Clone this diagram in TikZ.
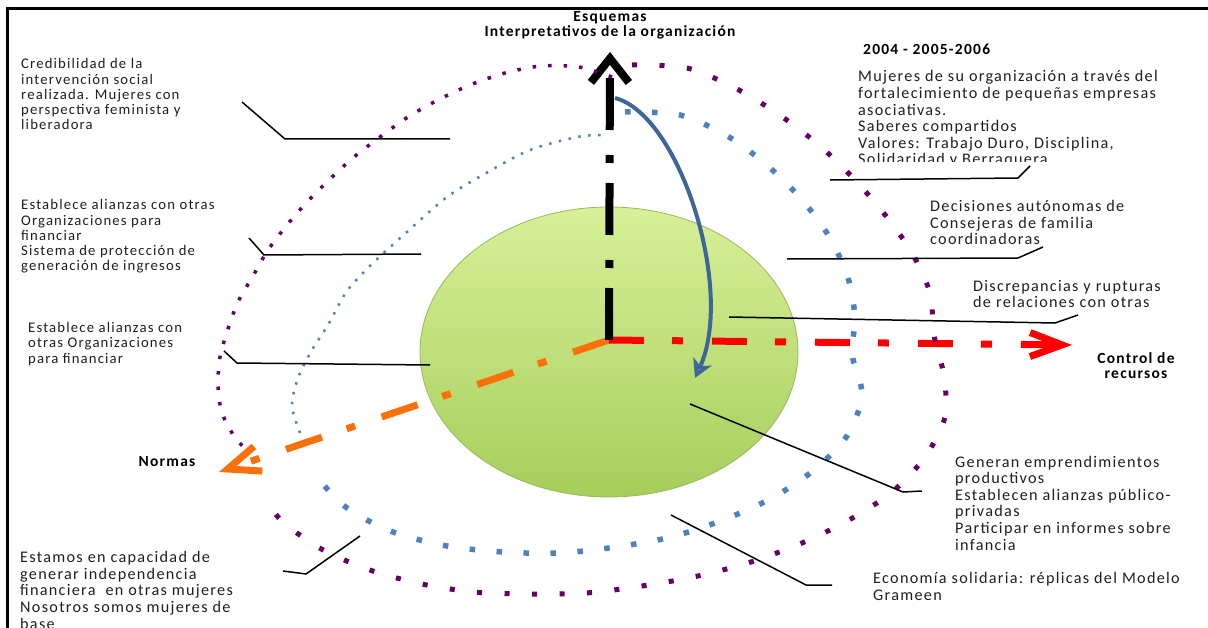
\documentclass[tikz,border=0pt]{standalone}
\usepackage{fontspec}
\setmainfont{Carlito}[LetterSpace=8]
\usetikzlibrary{arrows.meta}

\definecolor{morado}{RGB}{102,0,102}
\definecolor{azul}{RGB}{79,129,189}
\definecolor{azulflecha}{RGB}{62,102,152}
\definecolor{naranja}{RGB}{250,112,10}
\definecolor{verdeclaro}{RGB}{216,240,152}
\definecolor{verdeoscuro}{RGB}{166,206,92}
\definecolor{verdeborde}{RGB}{150,185,90}

\tikzset{
  % base = linea base de la ultima linea
  nota/.style={anchor=base west, align=left, inner sep=0pt, text=black!88,
    font=\fontsize{14.7}{15.3}\selectfont},
  notag/.style={nota, font=\fontsize{16.2}{16.6}\selectfont},
  eje/.style={anchor=base, align=center, inner sep=0pt,
    font=\bfseries\fontsize{15.5}{15.2}\selectfont},
  guia/.style={draw=black, line width=1.5pt},
  % ejes con punto y raya
  ejenegro/.style={line width=8pt, dash pattern=on 52pt off 20pt on 8pt off 25pt,
    -{Straight Barb[length=24pt,width=38pt]}},
  ejerojo/.style={red, line width=7pt, dash pattern=on 35pt off 28pt on 11pt off 29pt,
    -{Straight Barb[length=32pt,width=24pt]}},
  ejenaranja/.style={naranja, line width=7pt, dash pattern=on 38pt off 28pt on 9pt off 26pt,
    -{Straight Barb[length=32pt,width=26pt]}},
  % contornos punteados
  moradog/.style={morado, line width=5pt, dash pattern=on 5pt off 22.5pt},
  moradof/.style={morado, line width=3.5pt, dash pattern=on 3.5pt off 12pt},
  azulg/.style={azul, line width=5.5pt, dash pattern=on 5.5pt off 21.5pt},
  azulf/.style={azul, line width=2.5pt, dash pattern=on 2.5pt off 7.5pt},
}

\begin{document}
\begin{tikzpicture}[x=1pt,y=-1pt]
\useasboundingbox (0,0) rectangle (1208,628);

% marco
\draw[line width=3pt] (7,628) -- (7,9) -- (1208,9);

% disco central
\shade[top color=verdeclaro, bottom color=verdeoscuro, draw=verdeborde, line width=0.8pt]
  (609,352) ellipse [x radius=189, y radius=145];

\path
(609,340)  coordinate (O)
(610,52)   coordinate (esq)
(1072,345) coordinate (rec)
(219,472)  coordinate (nor);

\draw[ejenaranja] (O) -- (nor);
\draw[ejerojo] (O) -- (rec);
\draw[ejenegro] (O) -- (esq);

% contorno exterior
\draw[moradof] plot[smooth] coordinates {(612,77) (579,67) (541,66) (505,73) (470,85)
  (438,100) (408,117) (380,137) (354,157) (330,179) (307,202) (287,225) (268,250)
  (253,276) (238,302) (228,329) (220,357) (218,385) (222,413) (236,439) (250,452)};
\draw[moradog] plot[smooth] coordinates {(632,65) (687,68) (737,89) (781,116) (820,146)
  (855,180) (886,216) (912,253) (930,293) (934,335) (944,376) (945,417) (925,457)
  (892,492) (849,520) (802,543) (751,562) (698,576) (642,586) (586,593) (529,594)
  (473,592) (417,583) (364,568) (316,546) (278,517) (267,494)};
% contorno interior
\draw[azulf] plot[smooth] coordinates {(300,433) (292,406) (298,378) (312,350) (328,325)
  (347,291) (375,261) (407,232) (447,197) (488,172) (530,150) (577,137) (602,135)};
\draw[azulg] plot[smooth] coordinates {(625,112) (680,115) (729,137) (769,167) (803,201)
  (830,238) (848,278) (855,318) (852,354) (862,395) (847,436) (814,470) (772,498)
  (723,520) (671,537) (616,547) (559,553) (503,552) (447,546) (393,532) (347,508)
  (313,473)};

% giro
\path (615,98) coordinate (g0) (695,378) coordinate (g1);
\draw[azulflecha, line width=4pt, -{Stealth[length=18pt,width=20pt,inset=5pt,fill=azul]}]
  (g0) .. controls (680,115) and (735,290) .. (g1);

% rotulos de los ejes
\node[eje] (esquemas) at (610,37) {Esquemas\\Interpretativos de la organización};
\node[eje] (control) at (1136,379) {Control de\\recursos};
\node[eje] (normas) at (167,466) {Normas};
\node[eje, anchor=base west] (anio) at (863,55) {2004 - 2005-2006};

% textos
\node[nota] (cred) at (21,130) {Credibilidad de la\\intervención social\\realizada. Mujeres con\\perspectiva feminista y\\liberadora};
\node[nota] (alianzas) at (21,271) {Establece alianzas con otras\\Organizaciones para\\financiar\\Sistema de protección de\\generación de ingresos};
\node[nota] (financiar) at (28,363) {Establece alianzas con\\otras Organizaciones\\para financiar};
\node[notag] (capacidad) at (20,629) {Estamos en capacidad de\\generar independencia\\financiera\ \ en otras mujeres\\Nosotros somos mujeres de\\base};
\begin{scope}
\clip (850,0) rectangle (1208,162);
\node[notag] (mujeres) at (858,165) {Mujeres de su organización a través del\\fortalecimiento de pequeñas empresas\\asociativas.\\Saberes compartidos\\Valores: Trabajo Duro, Disciplina,\\Solidaridad y Berraquera};
\end{scope}
\node[notag] (decisiones) at (930,245) {Decisiones autónomas de\\Consejeras de familia\\coordinadoras};
\node[notag] (discrep) at (973,308) {Discrepancias y rupturas\\de relaciones con otras};
\node[notag] (generan) at (955,550) {Generan emprendimientos\\productivos\\Establecen alianzas público-\\privadas\\Participar en informes sobre\\infancia};
\node[notag] (economia) at (873,600) {Economía solidaria: réplicas del Modelo\\Grameen};

% lineas guia
\path
(450,139) coordinate (a1) (285,139) coordinate (b1) (242,102) coordinate (c1)
(421,254) coordinate (a2) (264,255) coordinate (b2) (249,238) coordinate (c2)
(430,365) coordinate (a3) (237,363) coordinate (b3) (224,351) coordinate (c3)
(360,536) coordinate (a4) (306,574) coordinate (b4) (283,571) coordinate (c4)
(830,180) coordinate (a5) (1018,178) coordinate (b5) (1030,166) coordinate (c5)
(787,259) coordinate (a6) (1018,258) coordinate (b6) (1043,247) coordinate (c6)
(729,317) coordinate (a7) (1055,323) coordinate (b7) (1078,315) coordinate (c7)
(690,404) coordinate (a8) (903,492) coordinate (b8) (922,491) coordinate (c8)
(671,515) coordinate (a9) (806,585) coordinate (b9) (832,585) coordinate (c9);
\foreach \i in {1,...,9}
  \draw[guia] (a\i) -- (b\i) -- (c\i);
\end{tikzpicture}
\end{document}
